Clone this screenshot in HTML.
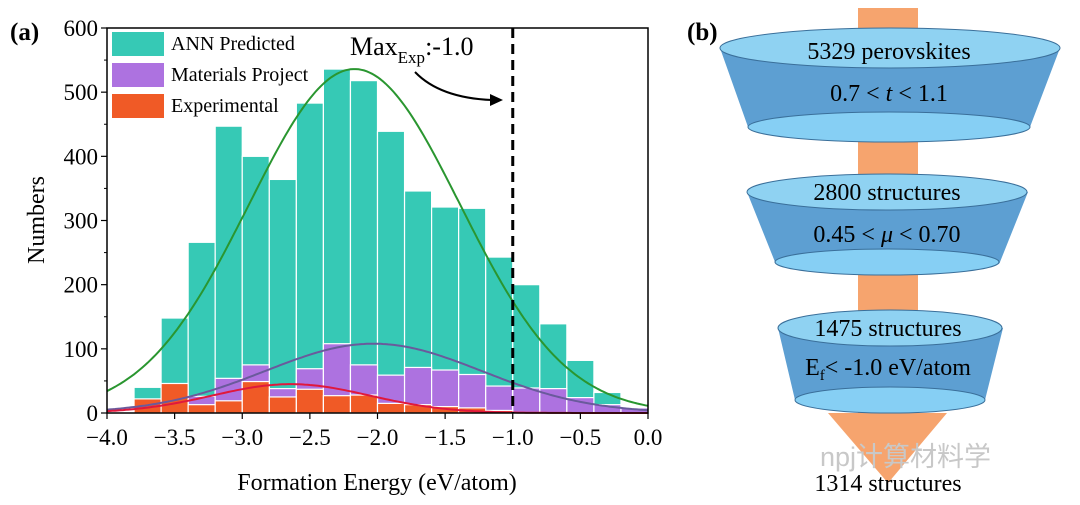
<!DOCTYPE html>
<html><head><meta charset="utf-8"><style>
body{margin:0;background:#fff;}
svg{display:block;font-family:"Liberation Serif","Noto Serif CJK SC",serif;}
</style></head><body>
<svg id="s" width="1080" height="505" viewBox="0 0 1080 505">
<g id="chart"></g>
<g>
  <text x="687" y="40" font-size="25" font-weight="bold">(b)</text>
  <rect x="858" y="8" width="60" height="410" fill="#f6a46e"/>
  <polygon points="828,413 947,413 888,483" fill="#f6a46e"/>
  <g>
    <path d="M720,48 L748,127 A141,15 0 0 0 1030,127 L1060,48 Z" fill="#5d9fd2"/>
    <ellipse cx="889" cy="127" rx="141" ry="15" fill="#86cff4" stroke="#3a6f9a" stroke-width="1"/>
    <ellipse cx="890" cy="48" rx="170" ry="20" fill="#8fd2f2" stroke="#3a6f9a" stroke-width="1"/>
    <text x="889" y="59" font-size="24" text-anchor="middle">5329 perovskites</text>
    <text x="889" y="101" font-size="24" text-anchor="middle">0.7 &lt; <tspan font-style="italic">t</tspan> &lt; 1.1</text>
  </g>
  <g>
    <path d="M747,192 L775,262 A112,13 0 0 0 1000,262 L1028,192 Z" fill="#5d9fd2"/>
    <ellipse cx="887" cy="262" rx="112" ry="13" fill="#86cff4" stroke="#3a6f9a" stroke-width="1"/>
    <ellipse cx="887" cy="192" rx="140" ry="18" fill="#8fd2f2" stroke="#3a6f9a" stroke-width="1"/>
    <text x="887" y="200" font-size="24" text-anchor="middle">2800 structures</text>
    <text x="887" y="242" font-size="24" text-anchor="middle">0.45 &lt; <tspan font-style="italic">μ</tspan> &lt; 0.70</text>
  </g>
  <g>
    <path d="M778,328 L795,400 A95,13 0 0 0 985,400 L1003,328 Z" fill="#5d9fd2"/>
    <ellipse cx="890" cy="400" rx="95" ry="13" fill="#86cff4" stroke="#3a6f9a" stroke-width="1"/>
    <ellipse cx="890" cy="328" rx="112" ry="18" fill="#8fd2f2" stroke="#3a6f9a" stroke-width="1"/>
    <text x="888" y="336" font-size="24" text-anchor="middle">1475 structures</text>
    <text x="888" y="375" font-size="24" text-anchor="middle">E<tspan font-size="15" dy="5">f</tspan><tspan dy="-5">&lt; -1.0 eV/atom</tspan></text>
  </g>
  <text x="820" y="466" font-size="27" fill="#c8c8c8" font-family="Liberation Sans,Noto Sans CJK SC,sans-serif">npj计算材料学</text>
  <text x="888" y="491" font-size="24" text-anchor="middle">1314 structures</text>
</g>
</svg>
<script>
const binStarts=[-3.8,-3.6,-3.4,-3.2,-3.0,-2.8,-2.6,-2.4,-2.2,-2.0,-1.8,-1.6,-1.4,-1.2,-1.0,-0.8,-0.6,-0.4,-0.2];
const annValues=[40,148,266,447,400,364,483,536,518,439,346,321,319,243,200,139,82,32,0];
const mpValues=[0,0,26,54,75,38,69,108,75,59,71,67,60,42,39,38,24,13,8];
const expValues=[22,46,13,19,49,25,37,27,28,15,13,10,8,4,0,0,0,0,0];
const annFit=[536,-2.17,0.78];
const mpFit=[108,-2.03,0.8];
const expFit=[45,-2.64,0.58];
const xTicks=[-4.0,-3.5,-3.0,-2.5,-2.0,-1.5,-1.0,-0.5,0.0];
const yTicks=[0,100,200,300,400,500,600];
const binWidth=0.2;
const maxExp=-1.0;

const NS='http://www.w3.org/2000/svg';
const g=document.getElementById('chart');
const L=107,R=648,T=28,B=413;
const xs=v=>L+(v+4)/4*(R-L);
const ys=v=>B-v/600*(B-T);
function mk(tag,attrs,parent){const e=document.createElementNS(NS,tag);for(const k in attrs)e.setAttribute(k,attrs[k]);(parent||g).appendChild(e);return e;}

function bars(vals,color,name){
  vals.forEach((v,i)=>{if(v<=0)return;
    const r=mk('rect',{x:xs(binStarts[i]),y:ys(v),width:xs(binStarts[i]+binWidth)-xs(binStarts[i]),height:B-ys(v),fill:color,stroke:'#fff','stroke-width':1.2});
    
    
  });
}
bars(annValues,'#36c9b5','ann');
bars(mpValues,'#ad72e0','mp');
bars(expValues,'#f05a26','exp');

function curve(p,color,name){
  let d='';for(let i=0;i<=200;i++){const x=-4+4*i/200;const y=p[0]*Math.exp(-Math.pow(x-p[1],2)/(2*p[2]*p[2]));d+=(i?'L':'M')+xs(x).toFixed(1)+','+ys(y).toFixed(1);}
  const e=mk('path',{d:d,fill:'none',stroke:color,'stroke-width':2});
  
  
}
curve(annFit,'#2a9630','ann-fit-curve');
curve(mpFit,'#6a5a9c','mp-fit-curve');
curve(expFit,'#e0183c','exp-fit-curve');

const dl=mk('line',{x1:xs(maxExp),x2:xs(maxExp),y1:T,y2:B,stroke:'#000','stroke-width':3,'stroke-dasharray':'10,6'});



const fr=mk('rect',{x:L,y:T,width:R-L,height:B-T,fill:'none',stroke:'#000','stroke-width':1.5});



xTicks.forEach(t=>{
  const l=mk('line',{x1:xs(t),x2:xs(t),y1:B,y2:B+6,stroke:'#000','stroke-width':1.2});
  
  
  const tx=mk('text',{x:xs(t),y:445,'font-size':23,'text-anchor':'middle'});
  tx.textContent=(t<0?'−':'')+Math.abs(t).toFixed(1);
  
  
});
yTicks.forEach(t=>{
  const l=mk('line',{x1:L-6,x2:L,y1:ys(t),y2:ys(t),stroke:'#000','stroke-width':1.2});
  
  
  const tx=mk('text',{x:98,y:ys(t)+8,'font-size':23,'text-anchor':'end'});
  tx.textContent=t;
  
  
});
for(let t=50;t<600;t+=100){const l=mk('line',{x1:L-3,x2:L,y1:ys(t),y2:ys(t),stroke:'#000'});
}

const yt=mk('text',{x:0,y:0,'font-size':24,'text-anchor':'middle',transform:'translate(44,220) rotate(-90)'});
yt.textContent='Numbers';


const xt=mk('text',{x:377,y:490,'font-size':24,'text-anchor':'middle'});
xt.textContent='Formation Energy (eV/atom)';


const pa=mk('text',{x:10,y:40,'font-size':25,'font-weight':'bold'});
pa.textContent='(a)';



[['ANN  Predicted','#36c9b5',32],['Materials Project','#ad72e0',63],['Experimental','#f05a26',94]].forEach(([lab,c,y])=>{
  const r=mk('rect',{x:112,y:y,width:52,height:24,fill:c});
  
  
  const t=mk('text',{x:171,y:y+18,'font-size':20});
  t.textContent=lab;
  
  
});

const mt=mk('text',{x:350,y:55,'font-size':26});
mt.innerHTML='Max<tspan font-size="17" dy="8">Exp</tspan><tspan dy="-8">:-1.0</tspan>';


const ar=mk('path',{d:'M415,72 Q440,98 492,100',fill:'none',stroke:'#000','stroke-width':2});


const ah=mk('polygon',{points:'503,100 490,94 490,106',fill:'#000'});


</script>
</body></html>
